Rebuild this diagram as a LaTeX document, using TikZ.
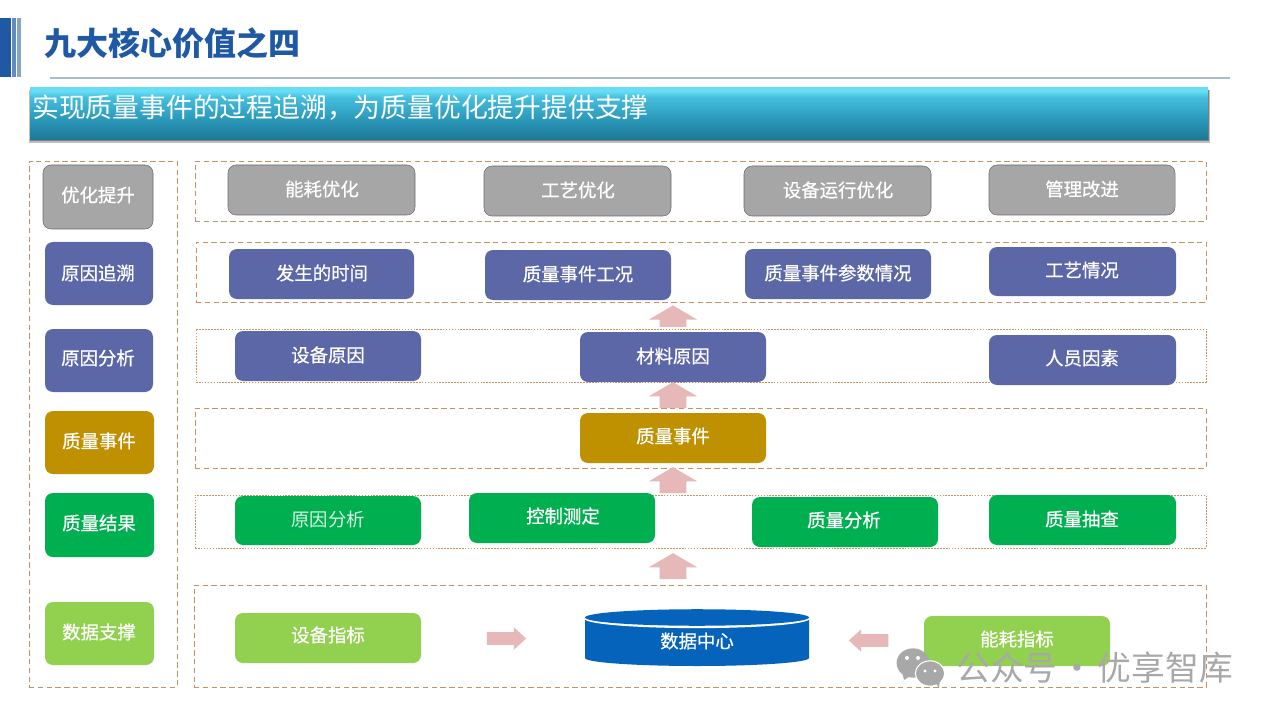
\documentclass[tikz,border=0pt]{standalone}
\usepackage{fontspec}
\usetikzlibrary{shapes.arrows}
\setmainfont{Noto Sans CJK SC}
\newfontfamily\medcjk{Noto Sans CJK SC}[FakeBold=0.6]
\definecolor{cgray}{HTML}{A6A6A6}
\definecolor{cblue}{HTML}{5B67A6}
\definecolor{cgold}{HTML}{BF9000}
\definecolor{cgreen}{HTML}{00AF50}
\definecolor{clime}{HTML}{92D050}
\definecolor{cdash}{HTML}{C8905F}
\definecolor{cpink}{HTML}{E6B8B7}
\definecolor{ctitle}{HTML}{1F58A3}
\definecolor{cdb}{HTML}{0563BC}
\definecolor{cmark}{HTML}{A8A8A8}
\definecolor{crule}{HTML}{A9BDCE}
\definecolor{bandA}{HTML}{66DDF5}
\definecolor{bandB}{HTML}{45BEDD}
\definecolor{bandC}{HTML}{2C9ABB}
\definecolor{bandD}{HTML}{1C7896}
\pgfdeclareverticalshading{bannershade}{100bp}{
  color(0bp)=(bandD); color(25bp)=(bandD); color(46bp)=(bandC);
  color(66bp)=(bandB); color(72bp)=(bandA); color(100bp)=(bandA)}
\tikzset{
  boxbase/.style={rounded corners=6pt,inner sep=0pt,outer sep=0pt},
  labeltext/.style={text=white,font=\medcjk\fontsize{13.8pt}{16pt}\selectfont,inner sep=0pt},
  dashrow/.style={draw=cdash,line width=0.7pt,dash pattern=on 4pt off 2.6pt,inner sep=0pt},
  finerow/.style={draw=cdash,line width=0.6pt,dash pattern=on 1.2pt off 1pt,inner sep=0pt},
  uparrowshape/.style={single arrow,fill=cpink,shape border rotate=90,inner ysep=0pt,inner xsep=9.75pt,outer sep=0pt,
    minimum height=19.5pt,single arrow head extend=8.25pt,single arrow tip angle=119,single arrow head indent=0pt},
  sidearrow/.style={single arrow,fill=cpink,inner xsep=0pt,inner ysep=4.5pt,outer sep=0pt,
    minimum height=29.5pt,single arrow head extend=3.75pt,single arrow tip angle=85,single arrow head indent=0pt},
}
\newcommand{\labelcontent}{}
% name, x0,y0,x1,y1, fill, extra, text x, text y ; text in \labelcontent
\newcommand{\bx}[9]{%
  \node[boxbase,fill=#6,#7,minimum width={(#4-#2)*0.75pt},minimum height={(#5-#3)*0.75pt}] (#1) at ({(#2+#4)/2},{(#3+#5)/2}) {};%
  \node[labeltext] (#1t) at (#8,#9) {\labelcontent};}
\newcommand{\dbx}[6]{\node[#6,minimum width={(#4-#2)*0.75pt},minimum height={(#5-#3)*0.75pt}] (#1) at ({(#2+#4)/2},{(#3+#5)/2}) {};}
\begin{document}
\begin{tikzpicture}[x=0.75pt,y=-0.75pt]
\useasboundingbox (0,0) rectangle (1280,720);
\fill[white] (0,0) rectangle (1280,720);
% header
\fill[ctitle] (0,18) rectangle (10.5,77);
\fill[ctitle!70!white] (11.5,18) rectangle (15.5,77);
\fill[ctitle!55!white] (17,18) rectangle (21,77);
\node[anchor=west,inner sep=0pt,text=ctitle,font=\fontsize{24pt}{28pt}\selectfont\bfseries] (title) at (44,43) {九大核心价值之四};
\draw[color=crule,line width=0.8pt] (50,78) -- (1230,78);
% banner
\fill[black,opacity=.25] (28.5,90) rectangle (1209.5,143);
\fill[black,opacity=.35] (29.5,90) rectangle (1208.5,141.5);
\shade[shading=bannershade] (30,88) rectangle (1208,140);
\node[anchor=west,inner sep=0pt,text=white,font=\fontsize{20.1pt}{24pt}\selectfont] (banner) at (32,108) {实现质量事件的过程追溯，为质量优化提升提供支撑};
% dashed frames
\dbx{fl}{29}{161}{177}{687}{dashrow}
\dbx{r1}{195}{161}{1206}{221}{dashrow}
\dbx{r2}{196}{242}{1206}{302}{dashrow}
\dbx{r3}{196}{329}{1206}{382}{finerow}
\dbx{r4}{195}{408}{1206}{468}{dashrow}
\dbx{r5}{195}{495}{1206}{548}{finerow}
\dbx{r6}{194}{585}{1206}{687}{dashrow}
% left column
\renewcommand{\labelcontent}{优化提升}\bx{l1}{43}{165}{153}{229}{cgray}{draw=gray!85!black}{98}{195}
\renewcommand{\labelcontent}{原因追溯}\bx{l2}{45}{242}{153}{305}{cblue}{}{98}{273}
\renewcommand{\labelcontent}{原因分析}\bx{l3}{45}{329}{153}{392}{cblue}{}{98}{358}
\renewcommand{\labelcontent}{质量事件}\bx{l4}{45}{411}{154}{474}{cgold}{}{99}{441}
\renewcommand{\labelcontent}{质量结果}\bx{l5}{45}{493}{154}{557}{cgreen}{}{99}{523}
\renewcommand{\labelcontent}{数据支撑}\bx{l6}{45}{602}{154}{665}{clime}{}{99}{632}
% row 1
\renewcommand{\labelcontent}{能耗优化}\bx{a1}{228}{165}{415}{215}{cgray}{draw=gray!85!black}{322}{189}
\renewcommand{\labelcontent}{工艺优化}\bx{a2}{484}{166}{671}{216}{cgray}{draw=gray!85!black}{578}{190}
\renewcommand{\labelcontent}{设备运行优化}\bx{a3}{744}{166}{931}{216}{cgray}{draw=gray!85!black}{838}{190}
\renewcommand{\labelcontent}{管理改进}\bx{a4}{989}{165}{1175}{215}{cgray}{draw=gray!85!black}{1082}{189}
% row 2
\renewcommand{\labelcontent}{发生的时间}\bx{b1}{229}{249}{414}{299}{cblue}{}{322}{273}
\renewcommand{\labelcontent}{质量事件工况}\bx{b2}{485}{250}{671}{300}{cblue}{}{578}{274}
\renewcommand{\labelcontent}{质量事件参数情况}\bx{b3}{745}{249}{931}{299}{cblue}{}{838}{273}
\renewcommand{\labelcontent}{工艺情况}\bx{b4}{989}{247}{1176}{296}{cblue}{}{1082}{270}
% row 3
\renewcommand{\labelcontent}{设备原因}\bx{c1}{235}{331}{421}{381}{cblue}{}{328}{355}
\renewcommand{\labelcontent}{材料原因}\bx{c2}{580}{332}{766}{382}{cblue}{}{673}{356}
\renewcommand{\labelcontent}{人员因素}\bx{c3}{989}{335}{1176}{385}{cblue}{}{1082}{358}
% row 4
\renewcommand{\labelcontent}{质量事件}\bx{d1}{580}{413}{766}{463}{cgold}{}{673}{436}
% row 5
\renewcommand{\labelcontent}{{\normalfont\fontsize{13.8pt}{16pt}\selectfont\color{white!85!cgreen}原因分析}}\bx{e1}{235}{496}{421}{545}{cgreen}{}{328}{520}
\renewcommand{\labelcontent}{控制测定}\bx{e2}{469}{493}{655}{543}{cgreen}{}{563}{516}
\renewcommand{\labelcontent}{质量分析}\bx{e3}{752}{497}{938}{547}{cgreen}{}{844}{520}
\renewcommand{\labelcontent}{质量抽查}\bx{e4}{989}{495}{1176}{545}{cgreen}{}{1082}{519}
% row 6
\renewcommand{\labelcontent}{设备指标}\bx{f1}{235}{613}{421}{663}{clime}{}{328}{635}
\renewcommand{\labelcontent}{能耗指标}\bx{f2}{924}{616}{1110}{666}{clime}{}{1017}{639}
% database
\fill[cdb] (585,618) -- (585,658) arc[start angle=180,end angle=360,x radius=84pt,y radius=6pt] -- (809,618) -- cycle;
\fill[white] (697,618.8) ellipse[x radius=84.3pt,y radius=7pt];
\fill[cdb] (697,617.5) ellipse[x radius=84pt,y radius=6.2pt];
\node[labeltext] (dbt) at (697,641) {数据中心};
% block arrows
\node[uparrowshape] (u1) at (673,570) {};
\node[uparrowshape] (u2) at (673,484) {};
\node[uparrowshape] (u3) at (673,399) {};
\node[uparrowshape,minimum height=16pt] (u4) at (673,320) {};
\node[sidearrow] (rarrow) at (503,638.5) {};
\node[sidearrow,shape border rotate=180] (larrow) at (872,640.5) {};
% watermark
\fill[cmark] (913,663) ellipse[x radius=12.3pt,y radius=11pt];
\fill[cmark] (902,672) -- (904,680) -- (912,675) -- cycle;
\fill[cmark,draw=white,line width=0.8pt] (930,673.5) ellipse[x radius=11pt,y radius=9.5pt];
\fill[cmark] (935,682) -- (939,688) -- (940,679) -- cycle;
\fill[white] (907,658) circle[radius=1.5pt] (918,658) circle[radius=1.5pt] (925,671) circle[radius=1.2pt] (935,671) circle[radius=1.2pt];
\node[anchor=west,inner sep=0pt,text=cmark,font=\fontsize{25.3pt}{28pt}\selectfont] (mark) at (956,668) {\spaceskip=2.5pt 公众号 · 优享智库};
\end{tikzpicture}
\end{document}
